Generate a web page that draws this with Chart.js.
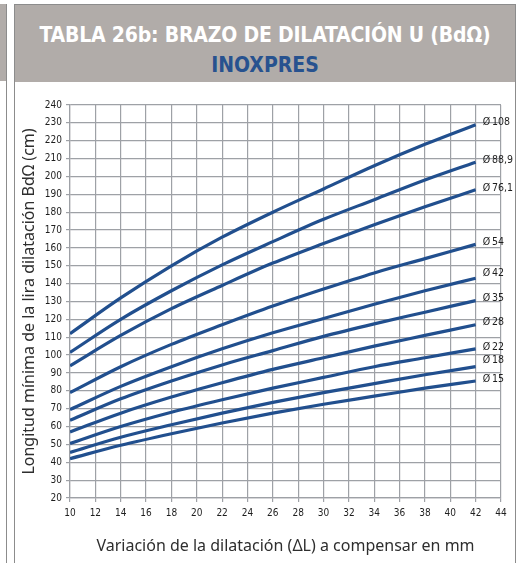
<!DOCTYPE html>
<html lang="es">
<head>
<meta charset="utf-8">
<title>Tabla 26b - Brazo de dilatación U</title>
<script src="https://cdn.jsdelivr.net/npm/chart.js@4.4.1/dist/chart.umd.min.js"></script>
<style>
  html, body { margin: 0; padding: 0; background: #fff; }
  body { width: 525px; height: 563px; position: relative; overflow: hidden; }
  /* edge of the previous table */
  #side-head { position: absolute; left: 0; top: 4px; width: 6px; height: 77px; background: #b1aca9; }
  #side-line { position: absolute; left: 6px; top: 4px; bottom: 0; width: 1px; background: #8c8c8c; }
  #panel { position: absolute; left: 14px; top: 4px; width: 500px; bottom: -2px;
           border: 1px solid #8c8c8c; border-bottom: none; }
  #panel-head { height: 77px; background: #b1aca9; text-align: center;
                font-family: 'DejaVu Sans Condensed', sans-serif; font-weight: bold; }
  #panel-head .t1 { color: #fff; font-size: 21px; line-height: 22px; padding-top: 19px; letter-spacing: -0.2px; }
  #panel-head .t2 { color: #27528f; font-size: 21px; line-height: 21px; padding-top: 9px; }
  #chart { position: absolute; left: 0; top: 0; }
</style>
</head>
<body>
<div id="side-head"></div>
<div id="side-line"></div>
<div id="panel">
  <div id="panel-head">
    <div class="t1">TABLA 26b: BRAZO DE DILATACIÓN U (BdΩ)</div>
    <div class="t2">INOXPRES</div>
  </div>
</div>
<canvas id="chart" width="525" height="563"></canvas>

<script>
// expansion to compensate (mm)
const deltaL = [10, 14, 18, 22, 26, 30, 34, 38, 42];

// pipe diameters, one curve each
const diameters = ['108', '88,9', '76,1', '54', '42', '35', '28', '22', '18', '15'];

// minimum arm length BdΩ (cm) for each diameter
const bd108 = [112, 132, 150, 166, 180, 193, 206, 218, 229];
const bd889 = [101.5, 120, 136, 150.5, 163.5, 176, 187, 198, 208];
const bd761 = [94, 111, 126, 139, 151.5, 162.5, 173, 183, 192.5];
const bd54 = [79, 93.5, 106, 117, 127.5, 137, 146, 154, 162];
const bd42 = [69.5, 82.5, 93.5, 103.5, 112.5, 120.5, 128.5, 136, 143];
const bd35 = [63.5, 75.5, 85.5, 94.5, 102.5, 110.5, 117.5, 124, 130.5];
const bd28 = [57, 67.5, 76.5, 84.5, 92, 98.5, 105, 111, 117];
const bd22 = [50.5, 60, 68, 75, 81.5, 87.5, 93.5, 98.5, 103.5];
const bd18 = [45.5, 54, 61, 67.5, 73.5, 79, 84, 89, 93.5];
const bd15 = [42, 49.5, 56, 62, 67.5, 72.5, 77, 81.5, 85.5];

const series = [bd108, bd889, bd761, bd54, bd42, bd35, bd28, bd22, bd18, bd15];

const lineColor = '#214f8e';
const gridColor = '#9ea1a6';
const tickFont = { family: "'DejaVu Sans Condensed', sans-serif", size: 10 };
const titleFont = { family: "'Noto Sans', sans-serif", size: 16 };

// "Ø xx" tag written just past the end of every curve
const endLabels = {
  id: 'endLabels',
  afterDatasetsDraw(chart) {
    const ctx = chart.ctx;
    ctx.save();
    ctx.font = "10.5px 'DejaVu Sans Condensed', sans-serif";
    ctx.fillStyle = '#1e1e1e';
    ctx.textBaseline = 'middle';
    ctx.textAlign = 'left';
    chart.data.datasets.forEach((ds, i) => {
      const pts = chart.getDatasetMeta(i).data;
      const last = pts[pts.length - 1];
      let dy = -2;
      if (i === 8) dy = -6;
      if (i === 4) dy = -5;
      ctx.fillText(ds.label, last.x + 7, last.y + dy);
    });
    ctx.restore();
  }
};

new Chart(document.getElementById('chart'), {
  type: 'line',
  data: {
    datasets: series.map((vals, i) => ({
      label: 'Ø\u2009' + diameters[i],
      data: vals.map((v, j) => ({ x: deltaL[j], y: v })),
      borderColor: lineColor,
      borderWidth: 3.2,
      pointRadius: 0,
      fill: false,
      cubicInterpolationMode: 'monotone'
    }))
  },
  options: {
    responsive: false,
    animation: false,
    layout: { padding: { top: 105, right: 24, bottom: 0, left: 0 } },
    plugins: {
      legend: { display: false },
      tooltip: { enabled: false }
    },
    scales: {
      x: {
        type: 'linear',
        min: 10,
        max: 44,
        afterFit(scale) { scale.height = 65; },
        ticks: { stepSize: 2, font: tickFont, color: '#1e1e1e', padding: 5, maxRotation: 0 },
        grid: { color: gridColor, lineWidth: 1.2, tickLength: 4 },
        border: { color: gridColor, width: 1.2 },
        title: {
          display: true,
          text: 'Variación de la dilatación (ΔL) a compensar en mm',
          font: titleFont,
          color: '#2e2e2e',
          padding: { top: 0, bottom: 7 }
        }
      },
      y: {
        min: 20,
        max: 240,
        afterFit(scale) { scale.width = 70; },
        ticks: { stepSize: 10, font: tickFont, color: '#1e1e1e', padding: 4 },
        grid: { color: gridColor, lineWidth: 1.2, tickLength: 4 },
        border: { color: gridColor, width: 1.2 },
        title: {
          display: true,
          text: 'Longitud mínima de la lira dilatación BdΩ (cm)',
          font: titleFont,
          color: '#2e2e2e',
          padding: { top: 20, bottom: 0 }
        }
      }
    }
  },
  plugins: [endLabels]
});
</script>
</body>
</html>
